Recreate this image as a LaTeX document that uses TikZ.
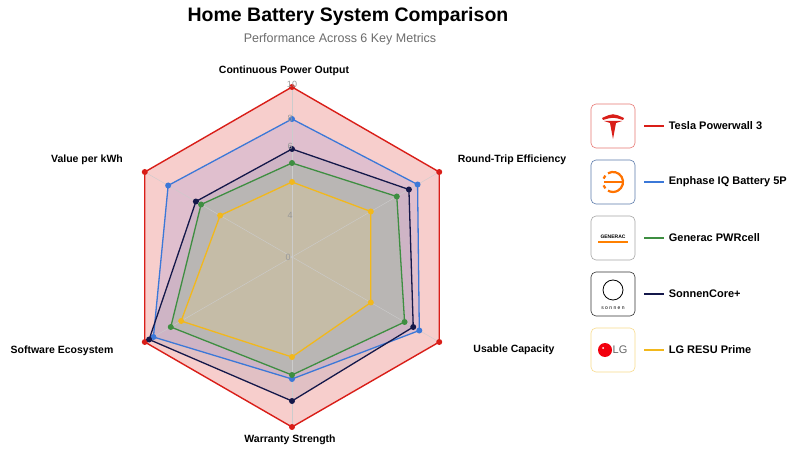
\documentclass[tikz,border=0pt]{standalone}
\usepackage{fontspec}
\setmainfont{Liberation Sans}
\begin{document}
\begin{tikzpicture}[x=1pt,y=1pt,
 lab/.style={font=\bfseries\fontsize{10.5}{12}\selectfont,text=black},
 tick/.style={font=\fontsize{9}{10}\selectfont,text=gray!80},
 logo/.style={draw,rounded corners=5pt,line width=0.6pt,minimum width=44pt,minimum height=44pt,fill=white},
 leg/.style={font=\bfseries\fontsize{11}{12}\selectfont,anchor=west}]
\definecolor{tred}{HTML}{D91E18}
\definecolor{eblue}{HTML}{3B78D8}
\definecolor{ggreen}{HTML}{3E8E41}
\definecolor{snavy}{HTML}{14184A}
\definecolor{lgyel}{HTML}{F2B81C}
\useasboundingbox[fill=white] (0,0) rectangle (800,450);
\node (title) at (348,434) {\bfseries\fontsize{19.5}{22}\selectfont Home Battery System Comparison};
\node (sub) at (340,411) {\fontsize{12.5}{14}\selectfont\color{gray!85!black} Performance Across 6 Key Metrics};
\begin{scope}[shift={(292,193)}]
\newcommand\rdr[8]{\fill[#2,opacity=#3] (90:#4)--(30:#5)--(-30:#6)--(-90:#7)--(210:#8)--(150:#1)--cycle;}
\newcommand\rdl[8]{\draw[#2,line width=#3,line join=round] (90:#4)--(30:#5)--(-30:#6)--(-90:#7)--(210:#8)--(150:#1)--cycle;
 \foreach \a/\r in {90/#4,30/#5,-30/#6,-90/#7,210/#8,150/#1} \fill[#2] (\a:\r) circle (3);}
\rdr{170}{tred!22}{1}{170}{170}{170}{170}{170}
\rdr{143}{eblue!50!violet!50}{0.3}{138}{145}{147}{122}{160}
\rdr{111}{snavy!50}{0.2}{108}{135}{140}{144}{165}
\rdr{105}{ggreen!60}{0.3}{94}{121}{130}{118}{140}
\rdr{83}{lgyel!60}{0.2}{75}{91}{91}{100}{128}
\foreach \a in {90,30,-30,-90,210,150} \draw[gray!40,line width=0.4pt] (0,0)--(\a:170);
\rdl{170}{tred}{1.4pt}{170}{170}{170}{170}{170}
\rdl{143}{eblue}{1.3pt}{138}{145}{147}{122}{160}
\rdl{111}{snavy}{1.3pt}{108}{135}{140}{144}{165}
\rdl{105}{ggreen}{1.3pt}{94}{121}{130}{118}{140}
\rdl{83}{lgyel}{1.3pt}{75}{91}{91}{100}{128}
\node[tick] (t10) at (0,173) {10};
\node[tick] (t8) at (-2,139) {8};
\node[tick] (t6) at (-2,111) {6};
\node[tick] (t4) at (-2,42) {4};
\node[tick] (t0) at (-4,0) {0};
\end{scope}
\node[lab] (l1) at (284,379) {Continuous Power Output};
\node[lab] (l2) at (512,290) {Round-Trip Efficiency};
\node[lab] (l3) at (514,100) {Usable Capacity};
\node[lab] (l4) at (290,10) {Warranty Strength};
\node[lab] (l5) at (62,99) {Software Ecosystem};
\node[lab] (l6) at (87,290) {Value per kWh};
% legend
\node[logo,draw=tred!60] (b1) at (613,324) {};
\node[logo,draw=eblue!50!gray] (b2) at (613,268) {};
\node[logo,draw=gray!70] (b3) at (613,212) {};
\node[logo,draw=black!80] (b4) at (613,156) {};
\node[logo,draw=lgyel!50] (b5) at (613,100) {};
% tesla
\fill[tred] ([shift={(-11,8)}]b1.center) .. controls ([shift={(0,13)}]b1.center) .. ([shift={(11,8)}]b1.center) -- ([shift={(10,6)}]b1.center) .. controls ([shift={(0,9)}]b1.center) .. ([shift={(-10,6)}]b1.center) -- cycle;
\fill[tred] ([shift={(-9,5)}]b1.center) -- ([shift={(9,5)}]b1.center) -- ([shift={(3,3)}]b1.center) -- ([shift={(0,-13)}]b1.center) -- ([shift={(-3,3)}]b1.center) -- cycle;
% enphase
\draw[orange!90!red,line width=2.2pt] ([shift={(-5,8.7)}]b2.center) arc (120:-120:10);
\draw[orange!90!red,line width=2.2pt] ([shift={(-9.4,3.4)}]b2.center) arc (160:140:10);
\draw[orange!90!red,line width=2.2pt] ([shift={(-9.4,-3.4)}]b2.center) arc (200:220:10);
\draw[orange!90!red,line width=2pt] ([shift={(-9,0)}]b2.center) -- ([shift={(9,0)}]b2.center);
% generac
\node[font=\bfseries\fontsize{5}{5}\selectfont,inner sep=0] (gtx) at ([yshift=1]b3.center) {GENERAC};
\fill[orange] ([shift={(-15,-3.5)}]b3.center) rectangle ([shift={(15,-5)}]b3.center);
% sonnen
\draw[black,line width=0.8pt] ([shift={(0,4)}]b4.center) circle (10);
\node[font=\fontsize{5}{5}\selectfont,inner sep=0] (stx) at ([shift={(0,-14)}]b4.center) {s o n n e n};
% LG
\fill[red!80!purple] ([shift={(-8,0)}]b5.center) circle (7);
\fill[white] ([shift={(-10,2)}]b5.center) circle (1);
\node[font=\fontsize{11}{12}\selectfont,text=gray!80!black,inner sep=0] (lgt) at ([shift={(7,0)}]b5.center) {LG};
\foreach \b/\c/\t in {b1/tred/Tesla Powerwall 3,b2/eblue/Enphase IQ Battery 5P,b3/ggreen/Generac PWRcell,b4/snavy/SonnenCore+,b5/lgyel/LG RESU Prime}{
 \coordinate (s\b) at ([xshift=9pt]\b.east);
 \coordinate (e\b) at ([xshift=29pt]\b.east);
 \draw[\c,line width=2.4pt] (s\b) -- (e\b);
 \node[leg] (n\b) at ([xshift=1pt]e\b) {\t};
}
\end{tikzpicture}
\end{document}
